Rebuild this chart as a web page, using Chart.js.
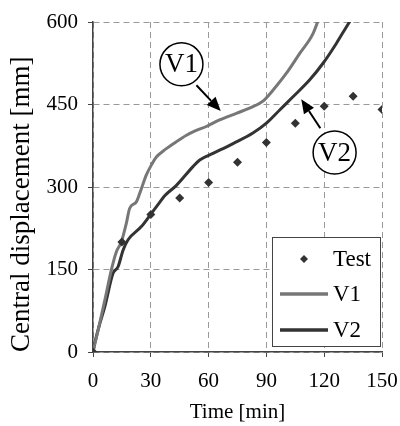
<!DOCTYPE html>
<html>
<head>
<meta charset="utf-8">
<script src="https://cdn.jsdelivr.net/npm/chart.js@4.4.0/dist/chart.umd.min.js"></script>
<style>
  html, body { margin: 0; padding: 0; background: #fff; }
  #wrap { width: 400px; height: 426px; }
</style>
</head>
<body>
<div id="wrap"><canvas id="myChart" width="400" height="426"></canvas></div>
<script>
// test measurements
const testTime = [0, 15, 30, 45, 60, 75, 90, 105, 120, 135, 150];
const testDisp = [0, 200, 250, 280, 308, 345, 381, 416, 447, 465, 441];

// model V1
const v1Time = [0, 1, 3, 6, 9.5, 12.1, 14.7, 17.3, 19, 22.5, 24.2, 27.7, 30.3, 33, 36.3, 41.5, 48.5, 53, 58.8, 65.7, 74.4, 83, 88.2, 93.4, 100.4, 107.3, 114.2, 117.6];
const v1Disp = [0, 15, 45, 92, 149, 182, 200, 234, 261, 273, 288, 322, 340, 355, 365, 378, 394, 402, 410, 422, 434, 446, 456, 476, 507, 543, 579, 610];

// model V2
const v2Time = [0, 0.9, 3, 6.1, 10.4, 13, 15.6, 18.2, 25.1, 30.3, 34.6, 37.2, 43.3, 51.9, 55.4, 62.3, 72.7, 83, 90, 96.9, 103.8, 112.5, 119.4, 126.3, 131.5, 134.9];
const v2Disp = [0, 16, 45, 82, 143, 155, 185, 204, 228, 252, 272, 284, 303, 337, 349, 361, 379, 398, 416, 440, 464, 495, 525, 561, 591, 610];

// axis ticks
const xTicks = [0, 30, 60, 90, 120, 150];
const yTicks = [0, 150, 300, 450, 600];

// callout labels: text, circle centre, arrow start, arrow tip (data units)
const calloutText = ['V1', 'V2'];
const calloutCentre = [[45.9, 523], [125.4, 362.7]];
const calloutFrom = [[53.7, 485], [118, 406.7]];
const calloutTo = [[66.3, 438], [108.1, 459.5]];

const serif = '"Liberation Serif", "Times New Roman", serif';

const toPoints = (xs, ys) => xs.map((x, i) => ({x: x, y: ys[i]}));

// legend box + callouts, drawn on top of the data
const extras = {
  id: 'extras',
  afterDatasetsDraw(chart) {
    const ctx = chart.ctx;
    const area = chart.chartArea;
    const xs = chart.scales.x, ys = chart.scales.y;

    // callouts
    ctx.save();
    for (let i = 0; i < calloutText.length; i++) {
      const cx = xs.getPixelForValue(calloutCentre[i][0]);
      const cy = ys.getPixelForValue(calloutCentre[i][1]);
      ctx.beginPath();
      ctx.arc(cx, cy, 21.5, 0, Math.PI * 2);
      ctx.fillStyle = '#fff';
      ctx.fill();
      ctx.lineWidth = 1.5;
      ctx.strokeStyle = '#000';
      ctx.stroke();
      ctx.fillStyle = '#000';
      ctx.font = '27px ' + serif;
      ctx.textAlign = 'center';
      ctx.textBaseline = 'middle';
      ctx.fillText(calloutText[i], cx, cy + 1);

      const x1 = xs.getPixelForValue(calloutFrom[i][0]);
      const y1 = ys.getPixelForValue(calloutFrom[i][1]);
      const x2 = xs.getPixelForValue(calloutTo[i][0]);
      const y2 = ys.getPixelForValue(calloutTo[i][1]);
      const ang = Math.atan2(y2 - y1, x2 - x1);
      const len = 14, half = 6;
      const bx = x2 - len * Math.cos(ang), by = y2 - len * Math.sin(ang);
      ctx.beginPath();
      ctx.moveTo(x1, y1);
      ctx.lineTo(bx, by);
      ctx.lineWidth = 2;
      ctx.stroke();
      ctx.beginPath();
      ctx.moveTo(x2, y2);
      ctx.lineTo(bx + half * Math.sin(ang), by - half * Math.cos(ang));
      ctx.lineTo(bx - half * Math.sin(ang), by + half * Math.cos(ang));
      ctx.closePath();
      ctx.fill();
    }

    // legend
    const w = 108, h = 109;
    const lx = area.right - 2 - w, ly = area.bottom - 6 - h;
    ctx.fillStyle = '#fff';
    ctx.fillRect(lx, ly, w, h);
    ctx.lineWidth = 1;
    ctx.strokeStyle = '#444';
    ctx.strokeRect(lx + 0.5, ly + 0.5, w, h);

    const rows = [ly + 22, ly + 57, ly + 93];
    chart.data.datasets.forEach((ds, i) => {
      const y = rows[i];
      if (ds.showLine) {
        ctx.beginPath();
        ctx.moveTo(lx + 8, y);
        ctx.lineTo(lx + 56, y);
        ctx.lineWidth = 3.5;
        ctx.strokeStyle = ds.borderColor;
        ctx.stroke();
      } else {
        const px = lx + 32, r = 4;
        ctx.beginPath();
        ctx.moveTo(px, y - r);
        ctx.lineTo(px + r, y);
        ctx.lineTo(px, y + r);
        ctx.lineTo(px - r, y);
        ctx.closePath();
        ctx.fillStyle = ds.backgroundColor;
        ctx.fill();
      }
      ctx.fillStyle = '#000';
      ctx.font = '23px ' + serif;
      ctx.textAlign = 'left';
      ctx.textBaseline = 'middle';
      ctx.fillText(ds.label, lx + 61, y + 1);
    });
    ctx.restore();
  }
};

// fixed axis boxes so the plot area lands where the original has it
const fixX = (s) => { s.height = 74; s.paddingLeft = 0; s.paddingRight = 0; };
const fixY = (s) => { s.width = 93; s.paddingTop = 0; s.paddingBottom = 0; };

const ctx = document.getElementById('myChart');

const myChart = new Chart(ctx, {
  type: 'scatter',
  data: {
    datasets: [{
      label: 'Test',
      data: toPoints(testTime, testDisp),
      pointStyle: 'rectRot',
      pointRadius: 4.5,
      backgroundColor: '#333',
      borderColor: '#333',
      borderWidth: 0,
      showLine: false
    }, {
      label: 'V1',
      data: toPoints(v1Time, v1Disp),
      borderColor: '#777',
      backgroundColor: '#777',
      borderWidth: 3,
      pointRadius: 0,
      showLine: true,
      cubicInterpolationMode: 'monotone'
    }, {
      label: 'V2',
      data: toPoints(v2Time, v2Disp),
      borderColor: '#333',
      backgroundColor: '#333',
      borderWidth: 3,
      pointRadius: 0,
      showLine: true,
      cubicInterpolationMode: 'monotone'
    }]
  },
  options: {
    responsive: false,
    animation: false,
    layout: { padding: { left: 0, right: 18, top: 22, bottom: 0 } },
    plugins: {
      legend: { display: false },
      tooltip: { enabled: false }
    },
    scales: {
      x: {
        type: 'linear',
        min: 0,
        max: 150,
        afterFit: fixX,
        afterBuildTicks: (s) => { s.ticks = xTicks.map(v => ({value: v})); },
        ticks: { color: '#000', padding: 12, font: { family: serif, size: 21 } },
        grid: { color: '#999', tickColor: '#444', tickLength: 5, tickBorderDash: [] },
        border: { display: true, color: '#444', width: 1.5, dash: [6, 4] },
        title: { display: true, text: 'Time [min]', color: '#000', font: { family: serif, size: 21 }, padding: { top: 0, bottom: 1 } }
      },
      y: {
        type: 'linear',
        min: 0,
        max: 600,
        afterFit: fixY,
        afterBuildTicks: (s) => { s.ticks = yTicks.map(v => ({value: v})); },
        ticks: { color: '#000', padding: 10, font: { family: serif, size: 21 } },
        grid: { color: '#999', tickColor: '#444', tickLength: 5, tickBorderDash: [] },
        border: { display: true, color: '#444', width: 1.5, dash: [6, 4] },
        title: { display: true, text: 'Central displacement [mm]', align: 'start', color: '#000', font: { family: serif, size: 27 }, padding: { top: 6, bottom: 0 } }
      }
    }
  },
  plugins: [extras]
});
</script>
</body>
</html>
